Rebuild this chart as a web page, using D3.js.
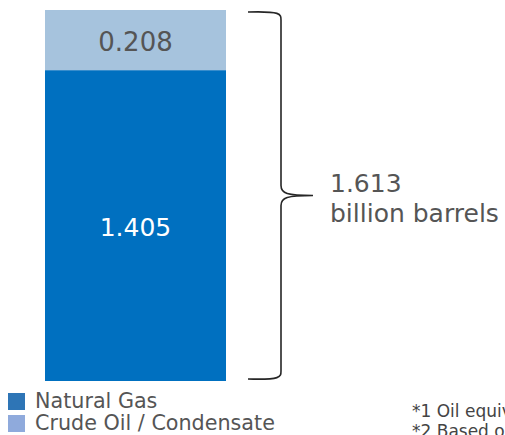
<!DOCTYPE html>
<html>
<head>
    <meta charset="utf-8">
    <script src="https://d3js.org/d3.v7.min.js"></script>
    <style>
        body {
            margin: 0;
            background: #fff;
            font-family: "DejaVu Sans", Verdana, sans-serif;
        }
    </style>
</head>
<body>
    <svg id="chart" width="505" height="435"></svg>
    <script>
        // reserves by type (billion barrels)
        var categories = ["Natural Gas", "Crude Oil / Condensate"];
        var values = [1.405, 0.208];
        var barColors = ["#0070C0", "#A6C3DD"];
        var legendColors = ["#2E75B6", "#8FAADC"];
        var totalLabel = ["1.613", "billion barrels"];
        var notes = ["*1 Oil equivalent basis", "*2 Based on"];
        var axisMin = 0.33; // value axis does not start at zero

        var svg = d3.select("#chart");
        var total = d3.sum(values);

        var y = d3.scaleLinear().domain([axisMin, total]).range([381, 10]);
        var x = d3.scaleBand().domain(["reserves"]).range([45, 226]).padding(0);

        // stack segments
        var stacked = [];
        var acc = 0;
        values.forEach(function (v, i) {
            stacked.push({ name: categories[i], v: v, y0: acc, y1: acc + v, color: barColors[i] });
            acc += v;
        });

        svg.selectAll("rect.seg")
            .data(stacked)
            .enter().append("rect")
            .attr("class", "seg")
            .attr("x", x("reserves"))
            .attr("width", x.bandwidth())
            .attr("y", function (d) { return y(d.y1); })
            .attr("height", function (d) { return y(Math.max(d.y0, axisMin)) - y(d.y1); })
            .attr("fill", function (d) { return d.color; });

        svg.selectAll("text.val")
            .data(stacked)
            .enter().append("text")
            .attr("class", "val")
            .attr("x", x("reserves") + x.bandwidth() / 2)
            .attr("y", function (d) { return (y(Math.max(d.y0, axisMin)) + y(d.y1)) / 2 + 2; })
            .attr("text-anchor", "middle")
            .attr("dominant-baseline", "central")
            .attr("font-size", function (d, i) { return i == 0 ? 25 : 26; })
            .attr("fill", function (d, i) { return i == 0 ? "#fff" : "#555"; })
            .text(function (d) { return d.v.toFixed(3); });

        // curly brace
        var braceTop = y(total) + 2, braceBot = y(axisMin) - 2;
        var mid = (braceTop + braceBot) / 2;
        var bx0 = 248, bx = 281, tip = 313;
        var p = d3.path();
        p.moveTo(bx0, braceTop);
        p.bezierCurveTo(bx, braceTop - 1, bx, braceTop + 2, bx, braceTop + 8);
        p.lineTo(bx, mid - 10);
        p.bezierCurveTo(bx, mid - 2, bx + 6, mid, tip, mid);
        p.moveTo(tip, mid);
        p.bezierCurveTo(bx + 6, mid, bx, mid + 2, bx, mid + 10);
        p.lineTo(bx, braceBot - 8);
        p.bezierCurveTo(bx, braceBot - 2, bx, braceBot + 1, bx0, braceBot);
        svg.append("path")
            .attr("d", p.toString())
            .attr("fill", "none")
            .attr("stroke", "#262626")
            .attr("stroke-width", 1.6);

        svg.append("text")
            .attr("x", 330)
            .attr("y", 192)
            .attr("font-size", 25)
            .attr("fill", "#555")
            .selectAll("tspan")
            .data(totalLabel)
            .enter().append("tspan")
            .attr("x", 330)
            .attr("dy", function (d, i) { return i == 0 ? 0 : 30; })
            .text(function (d) { return d; });

        // legend (top series first)
        var legend = svg.selectAll("g.leg")
            .data(categories)
            .enter().append("g")
            .attr("class", "leg")
            .attr("transform", function (d, i) { return "translate(8," + (393 + i * 22) + ")"; });
        legend.append("rect")
            .attr("width", 17)
            .attr("height", 17)
            .attr("fill", function (d, i) { return legendColors[i]; });
        legend.append("text")
            .attr("x", 27)
            .attr("y", 15)
            .attr("font-size", 20.7)
            .attr("fill", "#555")
            .text(function (d) { return d; });

        svg.selectAll("text.note")
            .data(notes)
            .enter().append("text")
            .attr("class", "note")
            .attr("x", 412)
            .attr("y", function (d, i) { return 417 + i * 20; })
            .attr("font-size", 17)
            .attr("fill", "#444")
            .text(function (d) { return d; });
    </script>
</body>
</html>
